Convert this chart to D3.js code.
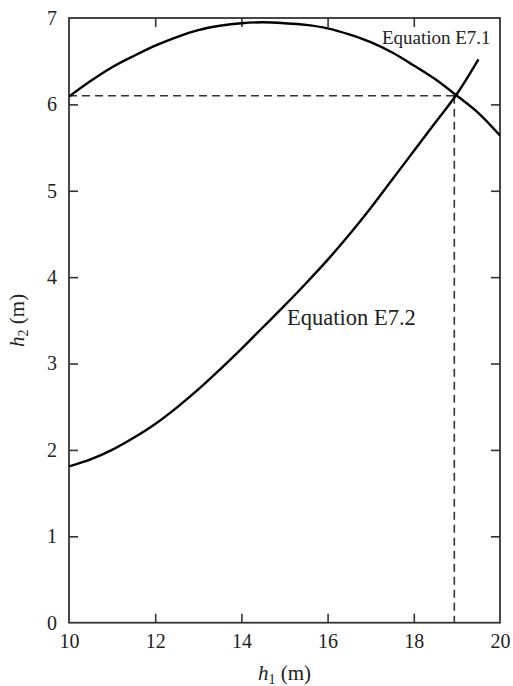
<!DOCTYPE html>
<html>
<head>
<meta charset="utf-8">
<script src="https://cdn.jsdelivr.net/npm/d3@7"></script>
<style>
  html, body { margin: 0; padding: 0; background: #fff; }
  svg { display: block; }
  svg text { font-family: "Liberation Serif", "Times New Roman", "DejaVu Serif", serif; fill: #222; }
</style>
</head>
<body>
<svg id="chart" width="513" height="686"></svg>
<script>
// ---- data ----
const xTickLabels = [10, 12, 14, 16, 18, 20];
const yTickLabels = [0, 1, 2, 3, 4, 5, 6, 7];
const xInnerTicks = [12, 14, 16, 18];
const yInnerTicks = [1, 2, 3, 4, 5, 6];

// Equation E7.1
const e71H1 = [10, 10.5, 11, 11.5, 12, 12.5, 13, 13.5, 14, 14.5, 15, 15.5, 16, 16.5, 17, 17.5, 18, 18.5, 19, 19.5, 20];
const e71H2 = [6.09, 6.27, 6.43, 6.56, 6.68, 6.78, 6.86, 6.91, 6.94, 6.95, 6.94, 6.92, 6.88, 6.81, 6.72, 6.60, 6.45, 6.29, 6.10, 5.90, 5.64];

// Equation E7.2
const e72H1 = [10, 10.5, 11, 11.5, 12, 12.5, 13, 13.5, 14, 14.5, 15, 15.5, 16, 16.5, 17, 17.5, 18, 18.5, 19, 19.5];
const e72H2 = [1.81, 1.89, 2.00, 2.14, 2.30, 2.49, 2.70, 2.93, 3.17, 3.42, 3.67, 3.93, 4.20, 4.49, 4.80, 5.13, 5.46, 5.79, 6.12, 6.52];

// solution (intersection)
const solution = { h1: 18.94, h2: 6.10 };

const curveLabels = [
  { text: "Equation E7.1", h1: 17.26, h2: 6.70, size: 19 },
  { text: "Equation E7.2", h1: 15.06, h2: 3.45, size: 22.5 }
];

// ---- layout ----
const svg = d3.select("#chart");
const mLeft = 69, mRight = 500, mTop = 18, mBottom = 622.7;
const x = d3.scaleLinear().domain([10, 20]).range([mLeft, mRight]);
const y = d3.scaleLinear().domain([0, 7]).range([mBottom, mTop]);

const axisColor = "#333";
const serif = "Liberation Serif, Times New Roman, DejaVu Serif, serif";

function clean(g) {
  g.select(".domain").remove();
  g.selectAll(".tick line").attr("stroke", axisColor).attr("stroke-width", 1.6);
}
function styleLabels(g) {
  g.attr("font-family", serif);
  g.select(".domain").remove();
  g.selectAll("text").attr("font-size", 20).attr("font-family", serif).attr("fill", "#222");
}

// tick labels
svg.append("g").attr("transform", `translate(0,${mBottom})`)
  .call(d3.axisBottom(x).tickValues(xTickLabels).tickSize(0).tickPadding(11).tickFormat(d3.format("d")))
  .call(styleLabels);

svg.append("g").attr("transform", `translate(${mLeft},0)`)
  .call(d3.axisLeft(y).tickValues(yTickLabels).tickSize(0).tickPadding(12).tickFormat(d3.format("d")))
  .call(styleLabels);

// inner ticks on all four sides
svg.append("g").attr("transform", `translate(0,${mBottom})`)
  .call(d3.axisBottom(x).tickValues(xInnerTicks).tickSize(-9).tickFormat(""))
  .call(clean);
svg.append("g").attr("transform", `translate(0,${mTop})`)
  .call(d3.axisTop(x).tickValues(xInnerTicks).tickSize(-9).tickFormat(""))
  .call(clean);
svg.append("g").attr("transform", `translate(${mLeft},0)`)
  .call(d3.axisLeft(y).tickValues(yInnerTicks).tickSize(-9).tickFormat(""))
  .call(clean);
svg.append("g").attr("transform", `translate(${mRight},0)`)
  .call(d3.axisRight(y).tickValues(yInnerTicks).tickSize(-9).tickFormat(""))
  .call(clean);

// frame
svg.append("rect")
  .attr("x", x(10)).attr("y", y(7))
  .attr("width", x(20) - x(10)).attr("height", y(0) - y(7))
  .attr("fill", "none").attr("stroke", axisColor).attr("stroke-width", 1.8);

// dashed guide lines
const dashG = svg.append("g").attr("stroke", "#333").attr("stroke-width", 1.6).attr("stroke-dasharray", "8,5").attr("fill", "none");
dashG.append("line")
  .attr("x1", x(10)).attr("x2", x(solution.h1))
  .attr("y1", y(solution.h2)).attr("y2", y(solution.h2));
dashG.append("line")
  .attr("x1", x(solution.h1)).attr("x2", x(solution.h1))
  .attr("y1", y(solution.h2)).attr("y2", y(0));

// curves
const line = d3.line().x(d => x(d[0])).y(d => y(d[1])).curve(d3.curveCatmullRom.alpha(0.5));
const e71 = e71H1.map((h, i) => [h, e71H2[i]]);
const e72 = e72H1.map((h, i) => [h, e72H2[i]]);
[e71, e72].forEach(pts => {
  svg.append("path").datum(pts)
    .attr("d", line)
    .attr("fill", "none").attr("stroke", "#000").attr("stroke-width", 2.4);
});

// curve labels
curveLabels.forEach(l => {
  svg.append("text")
    .attr("x", x(l.h1)).attr("y", y(l.h2))
    .attr("font-family", serif)
    .attr("font-size", l.size)
    .text(l.text);
});

// axis titles
const xt = svg.append("text")
  .attr("x", (mLeft + mRight) / 2).attr("y", 680)
  .attr("text-anchor", "middle").attr("font-size", 21).attr("font-family", serif);
xt.append("tspan").attr("font-style", "italic").text("h");
xt.append("tspan").attr("font-size", 14).attr("dy", 4).text("1");
xt.append("tspan").attr("dy", -4).text(" (m)");

const yt = svg.append("text")
  .attr("transform", `translate(24,${(mTop + mBottom) / 2}) rotate(-90)`)
  .attr("text-anchor", "middle").attr("font-size", 21).attr("font-family", serif);
yt.append("tspan").attr("font-style", "italic").text("h");
yt.append("tspan").attr("font-size", 14).attr("dy", 4).text("2");
yt.append("tspan").attr("dy", -4).text(" (m)");
</script>
</body>
</html>
